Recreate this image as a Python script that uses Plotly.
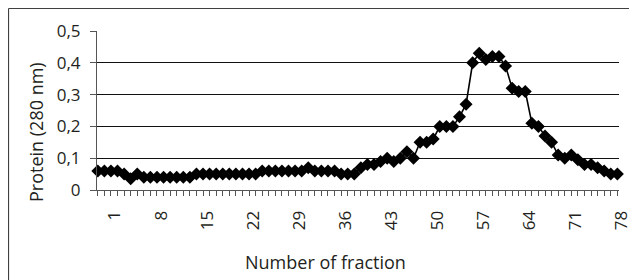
import plotly.graph_objects as go

# Fraction numbers (category labels) and protein absorbance at 280 nm
fractions = list(range(-1, 79))
protein = [
    0.06, 0.06, 0.06, 0.06, 0.05, 0.035, 0.05, 0.04, 0.04, 0.04,
    0.04, 0.04, 0.04, 0.04, 0.04, 0.05, 0.05, 0.05, 0.05, 0.05,
    0.05, 0.05, 0.05, 0.05, 0.05, 0.06, 0.06, 0.06, 0.06, 0.06,
    0.06, 0.06, 0.07, 0.06, 0.06, 0.06, 0.06, 0.05, 0.05, 0.05,
    0.07, 0.08, 0.08, 0.09, 0.10, 0.09, 0.10, 0.12, 0.10, 0.15,
    0.15, 0.16, 0.20, 0.20, 0.20, 0.23, 0.27, 0.40, 0.43, 0.41,
    0.42, 0.42, 0.39, 0.32, 0.31, 0.31, 0.21, 0.20, 0.17, 0.15,
    0.11, 0.10, 0.11, 0.095, 0.08, 0.08, 0.07, 0.06, 0.05, 0.05,
]
x_tick_vals = [1, 8, 15, 22, 29, 36, 43, 50, 57, 64, 71, 78]
x_tick_text = [str(v) for v in x_tick_vals]
y_tick_vals = [0, 0.1, 0.2, 0.3, 0.4, 0.5]
y_tick_text = ["0", "0,1", "0,2", "0,3", "0,4", "0,5"]

# page offset of the figure (default body margin)
OFF = 8
W, H = 637 - OFF, 280 - OFF
PL, PR, PT, PB = 97, 619, 31, 190          # plot area in page pixels
ML, MR, MT, MB = PL - OFF, W - (PR - OFF), PT - OFF, H - (PB - OFF)
PW, PH = W - ML - MR, H - MT - MB

def px_x(p):
    return (p - OFF - ML) / PW

def px_y(p):
    return (H - MB - (p - OFF)) / PH

FONT = "Open Sans"
TXT = "#231f20"
AX = "#555555"

fig = go.Figure()
fig.add_trace(go.Scatter(
    x=fractions, y=protein, mode="lines+markers",
    line=dict(color="black", width=1.6),
    marker=dict(symbol="diamond", size=10, color="black"),
    showlegend=False, cliponaxis=False,
))

fig.update_layout(
    width=W, height=H,
    margin=dict(l=ML, r=MR, t=MT, b=MB, autoexpand=False),
    paper_bgcolor="white", plot_bgcolor="white",
    font=dict(family=FONT, color=TXT, size=16),
    xaxis=dict(
        range=[-1.12, 78.25],
        tickmode="array", tickvals=x_tick_vals, ticktext=x_tick_text,
        tickangle=-90, ticks="outside", ticklen=5, tickcolor=AX,
        ticklabelstandoff=8, ticklabelshift=4,
        tickfont=dict(family=FONT, size=17, color=TXT),
        minor=dict(tickmode="array", tickvals=fractions, ticks="outside",
                   ticklen=5, tickcolor=AX, showgrid=False),
        showline=True, linecolor=AX, linewidth=1,
        showgrid=False, zeroline=False, automargin=False,
    ),
    yaxis=dict(
        range=[0, 0.5],
        tickmode="array", tickvals=y_tick_vals, ticktext=y_tick_text,
        ticks="outside", ticklen=6, tickcolor=AX,
        ticklabelstandoff=6,
        tickfont=dict(family=FONT, size=17, color=TXT),
        showline=True, linecolor=AX, linewidth=1,
        showgrid=True, gridcolor="#111", gridwidth=1,
        zeroline=False, automargin=False,
    ),
    annotations=[
        dict(text="Number of fraction", xref="paper", yref="paper",
             x=px_x(325), y=px_y(262), xanchor="center", yanchor="middle",
             showarrow=False, font=dict(family=FONT, size=18, color=TXT)),
        dict(text="Protein (280 nm)", xref="paper", yref="paper",
             x=px_x(36), y=px_y(132), xanchor="center", yanchor="middle",
             textangle=-90, showarrow=False,
             font=dict(family=FONT, size=18, color=TXT)),
    ],
    shapes=[
        dict(type="line", xref="paper", yref="paper",
             x0=px_x(8.5), x1=px_x(640), y0=px_y(8.5), y1=px_y(8.5),
             line=dict(color="#404040", width=1.2)),
        dict(type="line", xref="paper", yref="paper",
             x0=px_x(8.5), x1=px_x(8.5), y0=px_y(8.5), y1=px_y(285),
             line=dict(color="#404040", width=1.2)),
    ],
)

fig.write_html("out.html")
